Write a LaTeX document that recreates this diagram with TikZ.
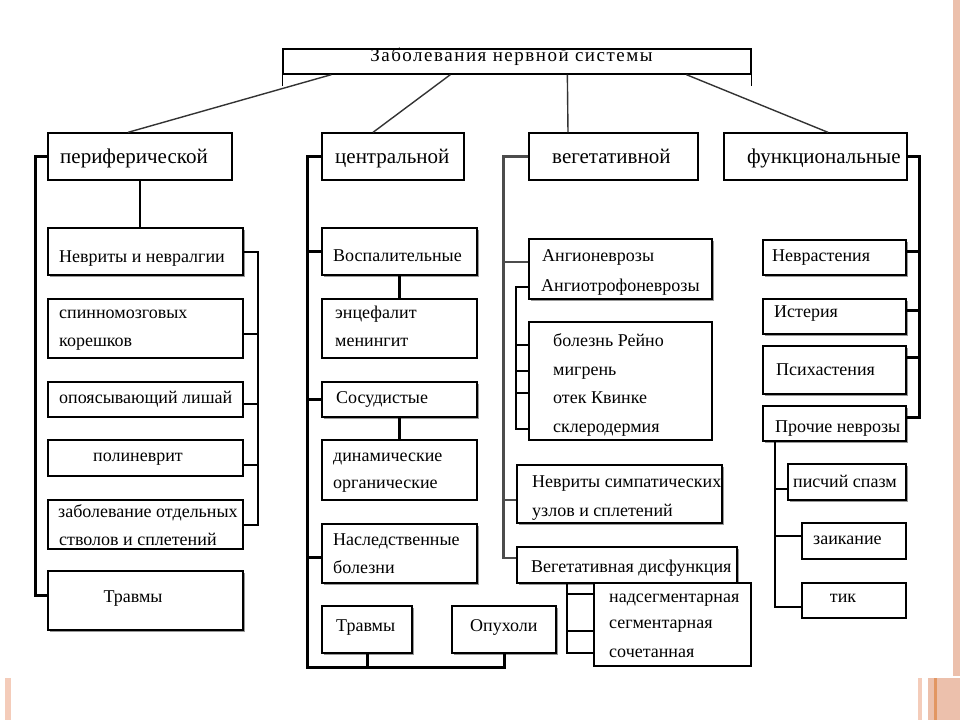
\documentclass[tikz,border=0pt]{standalone}
\usepackage{fontspec}
\setmainfont{Liberation Serif}
\newfontfamily\titlefont{Liberation Serif}[LetterSpace=8]
\usetikzlibrary{calc,shadows}
\definecolor{salmonA}{RGB}{236,192,172}
\definecolor{salmonB}{RGB}{244,204,186}
\definecolor{orangeC}{RGB}{226,150,98}
\newcommand\mybox[6]{%
  \node[#1, minimum width={(#5-#3)*1pt}, minimum height={(#6-#4)*1pt}] (#2) at ({(#3+#5)/2},{(#4+#6)/2}) {};}
\newcommand\tx[4]{\node[txt] (#1) at (#2,#3) {#4};}
\tikzset{
  thinbox/.style={draw, line width=1.1pt, fill=white, inner sep=0pt},
  lvlbox/.style={draw, line width=1.3pt, fill=white, inner sep=0pt},
  thickbox/.style={draw, line width=2.2pt, fill=white, inner sep=0pt,
    drop shadow={shadow xshift=1.5pt, shadow yshift=-1.5pt, fill=black!40, opacity=1}},
  txt/.style={anchor=base west, inner sep=0pt, font=\fontsize{18}{18}\selectfont},
  ctxt/.style={anchor=base, inner sep=0pt, font=\fontsize{18}{18}\selectfont},
  lvltxt/.style={anchor=base west, inner sep=0pt, font=\fontsize{21}{21}\selectfont},
  ttl/.style={anchor=base, inner sep=0pt, font=\titlefont\fontsize{19}{19}\selectfont},
  tline/.style={line width=1.4pt, black!80},
  branch/.style={line width=3pt},
  vbranch/.style={line width=2.8pt, black!70},
  stem/.style={line width=2.4pt},
  brk/.style={line width=2pt},
  midline/.style={line width=2.2pt},
  thinline/.style={line width=1.2pt},
}
\begin{document}
\begin{tikzpicture}[x=1pt,y=-1pt]
\useasboundingbox (0,0) rectangle (960,720);
% slide decoration
\fill[salmonA] (953,0) rectangle (960,676);
\fill[salmonB] (918,678) rectangle (922,720);
\fill[salmonA] (928,678) rectangle (960,720);
\fill[orangeC] (934,678) rectangle (937,720);
\fill[salmonB] (5,678) rectangle (11,720);

% title
\node[draw, line width=1.3pt, inner sep=0pt, minimum width=468pt, minimum height=25pt] (title) at (517,61.5) {};
\draw[line width=1.3pt] (title.south west) -- ++(0,11);
\draw[line width=1.3pt] (title.south east) -- ++(0,11);
\node[ttl] (ttext) at (511.5,61) {Заболевания нервной системы};

% level 1
\mybox{lvlbox}{per}{48}{133}{232}{180}
\mybox{lvlbox}{cen}{322}{133}{464}{180}
\mybox{lvlbox}{veg}{529}{133}{698}{180}
\mybox{lvlbox}{fun}{724}{133}{907}{180}
\node[lvltxt] (tper) at (60,163) {периферической};
\node[lvltxt] (tcen) at (335,163) {центральной};
\node[lvltxt] (tveg) at (552,163) {вегетативной};
\node[lvltxt] (tfun) at (747,163) {функциональные};

% peripheral column
\mybox{thickbox}{nev}{48}{228}{243}{275}
\mybox{thinbox}{spin}{48}{299}{243}{358}
\mybox{thinbox}{opo}{48}{382}{243}{417}
\mybox{thinbox}{pol}{48}{440}{243}{476}
\mybox{thinbox}{zab}{48}{500}{243}{549}
\mybox{thickbox}{trp}{48}{571}{243}{630}
\tx{tnev}{59}{262}{Невриты и невралгии}
\tx{tspa}{59}{318}{спинномозговых}
\tx{tspb}{59}{346}{корешков}
\tx{topo}{59}{403}{опоясывающий лишай}
\node[ctxt] (tpol) at (138,461) {полиневрит};
\tx{tzaa}{58}{517}{заболевание отдельных}
\tx{tzab}{59}{545}{стволов и сплетений}
\node[ctxt] (ttrp) at (133,602) {Травмы};

% central column
\mybox{thickbox}{vos}{322}{228}{477}{275}
\mybox{thinbox}{ens}{322}{299}{477}{358}
\mybox{thickbox}{sos}{322}{382}{477}{417}
\mybox{thinbox}{din}{322}{440}{477}{500}
\mybox{thickbox}{nas}{322}{524}{477}{583}
\mybox{thickbox}{trb}{322}{606}{412}{653}
\mybox{thickbox}{opu}{452}{606}{556}{653}
\tx{tvos}{333}{261}{Воспалительные}
\tx{tensa}{335}{318}{энцефалит}
\tx{tensb}{335}{346}{менингит}
\tx{tsos}{336}{403}{Сосудистые}
\tx{tdina}{333}{461}{динамические}
\tx{tdinb}{333}{488}{органические}
\tx{tnasa}{333}{545}{Наследственные}
\tx{tnasb}{333}{573}{болезни}
\tx{ttrb}{336}{631}{Травмы}
\tx{topu}{470}{631}{Опухоли}

% vegetative column
\mybox{thickbox}{ang}{529}{239}{712}{299}
\mybox{thinbox}{bol}{529}{322}{712}{440}
\mybox{thickbox}{nsy}{517}{465}{722}{523}
\mybox{thickbox}{vdf}{517}{547}{737}{583}
\mybox{thinbox}{nad}{594}{583}{751}{666}
\tx{tanga}{542}{261}{Ангионеврозы}
\tx{tangb}{541}{291}{Ангиотрофоневрозы}
\tx{tbola}{553}{346}{болезнь Рейно}
\tx{tbolb}{553}{375}{мигрень}
\tx{tbolc}{553}{403}{отек Квинке}
\tx{tbold}{553}{432}{склеродермия}
\tx{tnsya}{532}{487}{Невриты симпатических}
\tx{tnsyb}{532}{516}{узлов и сплетений}
\tx{tvdf}{531}{572}{Вегетативная дисфункция}
\tx{tnada}{609}{602}{надсегментарная}
\tx{tnadb}{609}{628}{сегментарная}
\tx{tnadc}{609}{657}{сочетанная}

% functional column
\mybox{thickbox}{nvr}{763}{240}{906}{275}
\mybox{thickbox}{ist}{763}{299}{906}{334}
\mybox{thickbox}{psi}{763}{346}{906}{394}
\mybox{thickbox}{pro}{763}{406}{906}{441}
\mybox{thickbox}{pis}{788}{464}{906}{500}
\mybox{thinbox}{zai}{802}{523}{906}{559}
\mybox{thinbox}{tik}{802}{583}{906}{618}
\tx{tnvr}{772}{261}{Неврастения}
\tx{tist}{774}{317}{Истерия}
\tx{tpsi}{776}{375}{Психастения}
\tx{tpro}{775}{432}{Прочие неврозы}
\tx{tpis}{793}{487}{писчий спазм}
\tx{tzai}{813}{544}{заикание}
\node[ctxt] (ttik) at (843,602) {тик};

% connectors from the title
\draw[tline] ($(title.south west)+(49,0)$) -- ($(per.north)+(-12,0)$);
\draw[tline] ($(title.south west)+(168,0)$) -- ($(cen.north)+(-20,0)$);
\draw[tline] ($(title.south west)+(285,0)$) -- ($(veg.north)+(-45.5,0)$);
\draw[tline] ($(title.south west)+(404,0)$) -- ($(fun.north)+(12.5,0)$);

% peripheral connectors
\draw[branch] (per.west) -- ++(-12,0) |- ($(trp.west)+(0,-5)$);
\draw[stem] (per.south) -- (per.south |- nev.north);
\draw[brk] (nev.east) -- ++(14,0) |- (zab.east);
\draw[brk] ($(spin.east)+(0,5)$) -- ++(14,0);
\draw[brk] ($(opo.east)+(0,4)$) -- ++(14,0);
\draw[brk] ($(pol.east)+(0,7)$) -- ++(14,0);

% central connectors
\coordinate (cbot) at ($(opu.south)+(0,13)$);
\draw[branch] (cen.west) -- ++(-14,0) |- (cbot) -- (opu.south);
\draw[branch] (trb.south) -- (trb.south |- cbot);
\draw[branch] (vos.west) -- ++(-14,0);
\draw[branch] (sos.west) -- ++(-14,0);
\draw[branch] ($(nas.west)+(0,4)$) -- ++(-14,0);
\draw[stem] (vos.south) -- (ens.north);
\draw[stem] (sos.south) -- (din.north);

% vegetative connectors
\draw[vbranch] (veg.west) -- ++(-25,0) |- ($(vdf.west)+(0,-7)$);
\draw[vbranch] ($(ang.west)+(0,-7)$) -- ++(-25,0);
\draw[vbranch] ($(nsy.west)+(0,6)$) -- ++(-13,0);
\draw[thinline] ($(ang.west)+(0,18)$) -- ++(-12,0) |- ($(bol.west)+(0,48)$);
\draw[thinline] ($(bol.west)+(0,-36)$) -- ++(-12,0);
\draw[thinline] ($(bol.west)+(0,-10)$) -- ++(-12,0);
\draw[midline] ($(bol.west)+(0,12)$) -- ++(-12,0);
\draw[thinline] ($(vdf.south west)+(51,0)$) |- ($(nad.west)+(0,28.5)$);
\draw[midline] ($(nad.west)+(0,-30.5)$) -- ++(-26,0);
\draw[thinline] ($(nad.west)+(0,6.5)$) -- ++(-26,0);

% functional connectors
\draw[branch] (fun.east) -- ++(12,0) |- ($(pro.east)+(0,-6.5)$);
\draw[branch] ($(nvr.east)+(0,-6.5)$) -- ++(13,0);
\draw[branch] ($(ist.east)+(0,-6.5)$) -- ++(13,0);
\draw[branch] ($(psi.east)+(0,-13)$) -- ++(13,0);
\draw[thinline] ($(pro.south west)+(13,0)$) |- ($(tik.west)+(0,6.5)$);
\draw[stem] ($(pis.west)+(0,7)$) -- ++(-12,0);
\draw[thinline] ($(zai.west)+(0,-5)$) -- ++(-26,0);
\end{tikzpicture}
\end{document}
